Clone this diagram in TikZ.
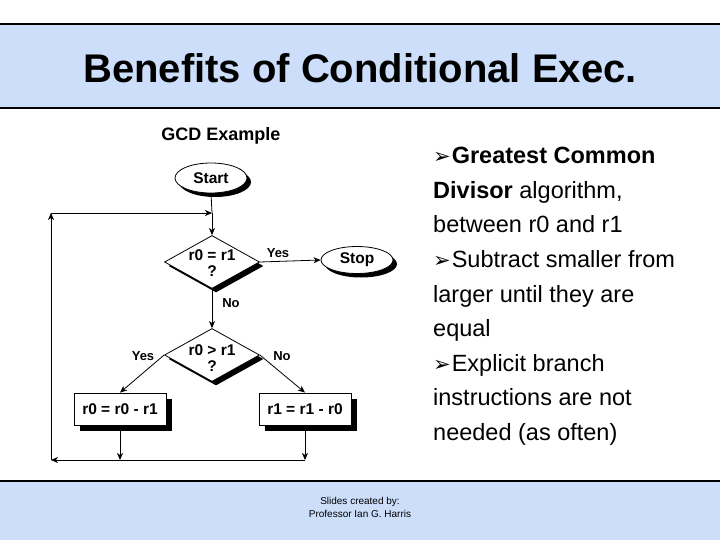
\documentclass[tikz,border=0pt]{standalone}
\usepackage{fontspec}
\setmainfont{Liberation Sans}
\newfontfamily\dejavu{DejaVu Sans}
\usetikzlibrary{shapes.geometric,arrows.meta,shadows}
\definecolor{hdrblue}{RGB}{204,222,250}
\tikzset{
  band/.style={fill=hdrblue},
  bandline/.style={line width=1.2pt},
  chart/.style={font=\bfseries\fontsize{15.5}{15.5}\selectfont},
  lbl/.style={font=\bfseries\fontsize{13}{13}\selectfont, inner sep=1pt},
  blackshadow/.style={drop shadow={fill=black,opacity=1,shadow xshift=#1pt,shadow yshift=-#1pt}},
  term/.style={ellipse, draw, line width=0.8pt, fill=white, inner sep=0pt, minimum width=72pt, chart, blackshadow=4},
  decision/.style={diamond, draw, line width=0.8pt, fill=white, inner sep=0pt, minimum width=95pt, minimum height=53pt, blackshadow=4},
  procbox/.style={rectangle, draw, line width=0.8pt, fill=white, minimum width=92pt, minimum height=32pt, chart, blackshadow=5.5},
  arr/.style={line width=0.8pt, -{Stealth[length=7pt,width=6pt,inset=2pt]}},
  body/.style={anchor=base west, inner sep=0pt, font=\fontsize{23.5}{23.5}\selectfont},
}
\newcommand{\bul}{{\dejavu\fontsize{21}{21}\selectfont ➢}\hspace{1pt}}
\begin{document}
\begin{tikzpicture}[x=1pt,y=-1pt]
\useasboundingbox (0,0) rectangle (720,540);
% header
\fill[band] (0,24) rectangle (720,108);
\draw[bandline] (0,24) -- (720,24);
\draw[bandline] (0,108) -- (720,108);
\node[anchor=base, inner sep=0pt, font=\bfseries\fontsize{40}{40}\selectfont] (title) at (360,83) {Benefits of Conditional Exec.};
% footer
\fill[band] (0,481) rectangle (720,540);
\draw[bandline] (0,481) -- (720,481);
\node[align=center, inner sep=0pt, font=\fontsize{10}{13}\selectfont] (credit) at (360,507) {Slides created by:\\Professor Ian G. Harris};
% chart
\node[anchor=base, inner sep=0pt, font=\bfseries\fontsize{18}{18}\selectfont] (gcd) at (221,141) {GCD Example};
\node[term, minimum height=30pt] (start) at (211,178) {Start};
\node[term, minimum height=27pt] (stop) at (357,260) {Stop};
\node[decision] (d1) at (212,262) {};
\node[align=center, inner sep=0pt, font=\bfseries\fontsize{15.5}{15.5}\selectfont] (d1t) at (212,263) {r0 = r1\\?};
\node[decision] (d2) at (212,355) {};
\node[align=center, inner sep=0pt, font=\bfseries\fontsize{15.5}{15.5}\selectfont] (d2t) at (212,358) {r0 > r1\\?};
\node[procbox] (b1) at (120,409) {r0 = r0 - r1};
\node[procbox] (b2) at (305,409) {r1 = r1 - r0};
\coordinate (tj) at (212,213);
\coordinate (tl) at (51,213);
\coordinate (bl) at (51,460);
\coordinate (bj1) at (120,460);
\coordinate (bj2) at (305,460);
\draw[line width=0.8pt] (start.south) -- (tj);
\draw[arr] (tj) -- (d1.north);
\draw[arr] (d1.east) -- (stop.west);
\node[lbl] (yes1) at (278,253) {Yes};
\draw[arr] (d1.south) -- (d2.north);
\node[lbl] (no1) at (231,303) {No};
\draw[arr] (d2.west) -- (b1.north);
\node[lbl] (yes2) at (143,356) {Yes};
\draw[arr] (d2.east) -- (b2.north);
\node[lbl] (no2) at (282,356) {No};
\draw[arr] (b1.south) -- (bj1);
\draw[arr] (b2.south) -- (bj2);
\draw[arr] (bj2) -- (bl);
\draw[arr] (bl) -- (tl);
\draw[arr] (tl) -- (tj);
% bullet text
\node[body] (l1) at (433,164) {\bul\textbf{Greatest Common}};
\node[body] (l2) at (433,198.5) {\textbf{Divisor} algorithm,};
\node[body] (l3) at (433,233) {between r0 and r1};
\node[body] (l4) at (433,267.5) {\bul Subtract smaller from};
\node[body] (l5) at (433,302) {larger until they are};
\node[body] (l6) at (433,336.5) {equal};
\node[body] (l7) at (433,371) {\bul Explicit branch};
\node[body] (l8) at (433,405.5) {instructions are not};
\node[body] (l9) at (433,440) {needed (as often)};
\end{tikzpicture}
\end{document}
